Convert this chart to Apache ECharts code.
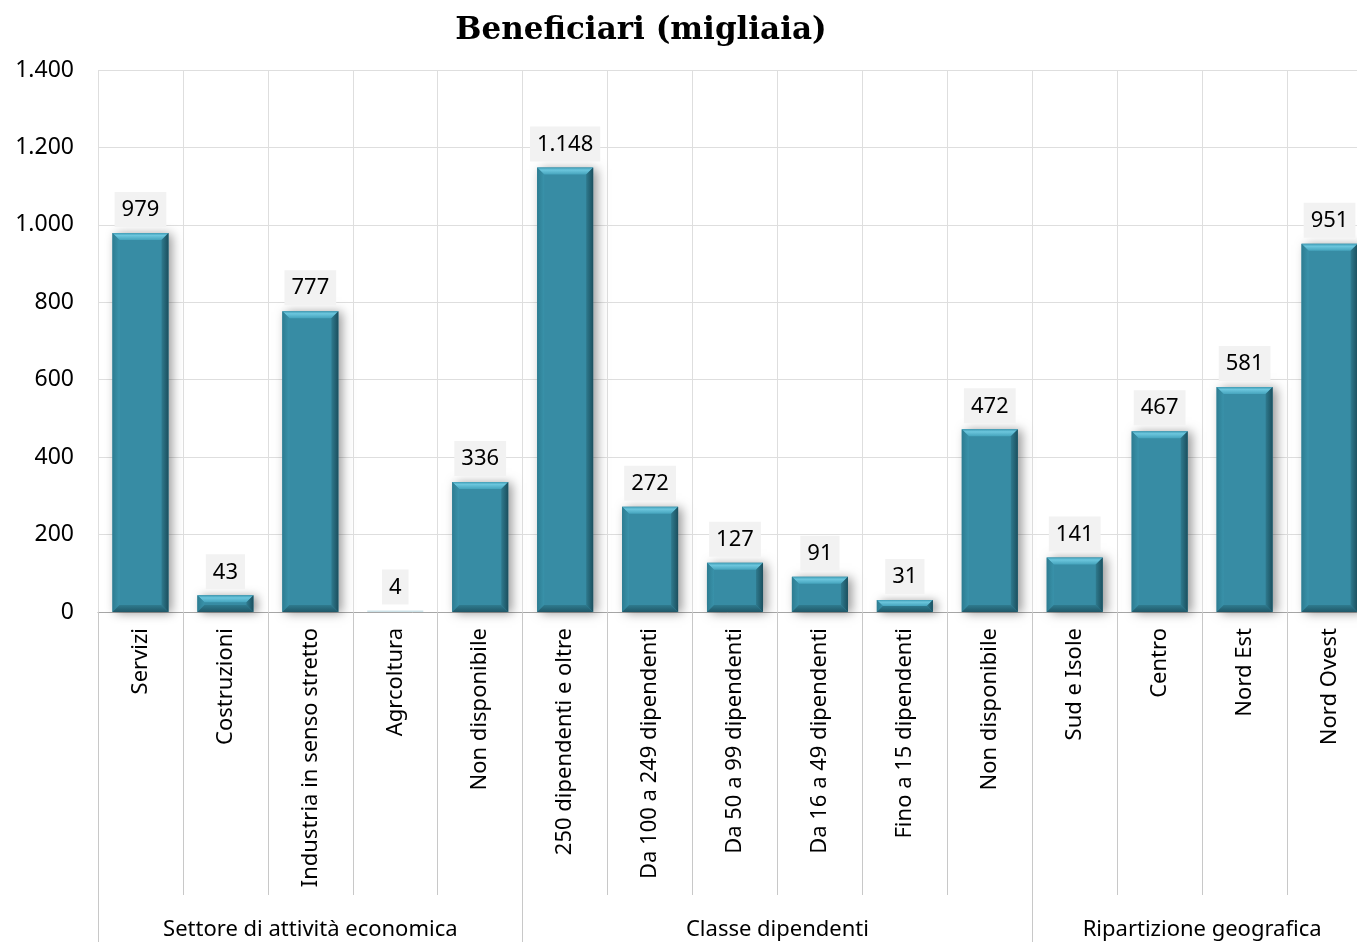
<!DOCTYPE html>
<html>
<head>
<meta charset="utf-8">
<script src="https://cdn.jsdelivr.net/npm/echarts@6/dist/echarts.min.js"></script>
<style>
  html, body { margin: 0; padding: 0; background: #fff; }
  #chart { width: 1357px; height: 942px; }
</style>
</head>
<body>
<div id="chart"></div>
<script>
// categorie e valori (migliaia)
var categories = ['Servizi', 'Costruzioni', 'Industria in senso stretto', 'Agrcoltura', 'Non disponibile',
    '250 dipendenti e oltre', 'Da 100 a 249 dipendenti', 'Da 50 a 99 dipendenti', 'Da 16 a 49 dipendenti',
    'Fino a 15 dipendenti', 'Non disponibile', 'Sud e Isole', 'Centro', 'Nord Est', 'Nord Ovest'];
var values = [979, 43, 777, 4, 336, 1148, 272, 127, 91, 31, 472, 141, 467, 581, 951];
// gruppi in basso
var groupNames = ['Settore di attività economica', 'Classe dipendenti', 'Ripartizione geografica'];
var groupSizes = [5, 6, 4];
var yTicks = [0, 200, 400, 600, 800, 1000, 1200, 1400];

var fontSans = '"Noto Sans", "Open Sans", sans-serif';

function fmt(v) {
    return String(v).replace(/\B(?=(\d{3})+(?!\d))/g, '.');
}

// confini e centri dei gruppi
var groupEdges = [0];
var groupCenters = [];
groupSizes.forEach(function (s, i) {
    var start = groupEdges[i];
    groupEdges.push(start + s);
    groupCenters.push(start + s / 2);
});

// barra con effetto smussato
function renderBar(params, api) {
    var i = api.value(0), v = api.value(1);
    var top = api.coord([i, v]);
    var base = api.coord([i, 0]);
    var w = api.size([1, 0])[0] * 0.66;
    var x0 = top[0] - w / 2, x1 = top[0] + w / 2;
    var y0 = top[1], y1 = base[1];
    var h = y1 - y0;
    var b = Math.min(7, h / 2);
    var children = [];
    if (h > 3) {
        children.push({
            type: 'rect',
            shape: { x: x0, y: y0, width: w, height: h },
            style: {
                fill: '#378ca4',
                shadowBlur: 10, shadowOffsetX: 4, shadowOffsetY: 1,
                shadowColor: 'rgba(0,0,0,0.4)'
            }
        });
        children.push({
            type: 'polygon',
            shape: { points: [[x0, y0], [x1, y0], [x1 - b, y0 + b], [x0 + b, y0 + b]] },
            style: {
                fill: new echarts.graphic.LinearGradient(0, 0, 0, 1, [
                    { offset: 0, color: '#3f9bb4' },
                    { offset: 0.35, color: '#6cc6dd' },
                    { offset: 1, color: '#45a4bd' }
                ])
            }
        });
        children.push({
            type: 'polygon',
            shape: { points: [[x0, y0], [x0 + b, y0 + b], [x0 + b, y1 - b], [x0, y1]] },
            style: {
                fill: new echarts.graphic.LinearGradient(0, 0, 1, 0, [
                    { offset: 0, color: '#2d7c91' },
                    { offset: 1, color: '#3992aa' }
                ])
            }
        });
        children.push({
            type: 'polygon',
            shape: { points: [[x1, y0], [x1, y1], [x1 - b, y1 - b], [x1 - b, y0 + b]] },
            style: {
                fill: new echarts.graphic.LinearGradient(0, 0, 1, 0, [
                    { offset: 0, color: '#2f7a8e' },
                    { offset: 1, color: '#1b4f5e' }
                ])
            }
        });
        children.push({
            type: 'polygon',
            shape: { points: [[x0, y1], [x1, y1], [x1 - b, y1 - b], [x0 + b, y1 - b]] },
            style: {
                fill: new echarts.graphic.LinearGradient(0, 0, 0, 1, [
                    { offset: 0, color: '#2f7b8f' },
                    { offset: 1, color: '#205868' }
                ])
            }
        });
    } else if (h > 0) {
        children.push({
            type: 'rect',
            shape: { x: x0, y: y0, width: w, height: h },
            style: { fill: 'rgba(55,140,164,0.25)' }
        });
    }
    children.push({
        type: 'text',
        x: top[0],
        y: y0 - 6,
        style: {
            text: fmt(v),
            fill: '#000',
            font: '22px ' + fontSans,
            align: 'center',
            verticalAlign: 'bottom',
            backgroundColor: '#f2f2f2',
            padding: [7, 7, 6, 7]
        }
    });
    return { type: 'group', children: children };
}

var chart = echarts.init(document.getElementById('chart'));
var option = {
    backgroundColor: '#fff',
    animation: false,
    graphic: [{
        type: 'text',
        x: 641,
        y: 15,
        style: {
            text: 'Beneficiari (migliaia)',
            fill: '#000',
            font: 'bold 31px "DejaVu Serif", serif',
            textAlign: 'center'
        }
    }],
    grid: {
        left: 98,
        top: 70,
        width: 1274,
        height: 542,
        containLabel: false,
        outerBoundsMode: 'none'
    },
    xAxis: [
        {
            type: 'category',
            data: categories,
            boundaryGap: true,
            axisLine: { show: true, lineStyle: { color: '#a6a6a6', width: 1 } },
            axisTick: {
                show: true, interval: 0, length: 283,
                lineStyle: { color: '#c8c8c8' }
            },
            axisLabel: {
                interval: 0, rotate: 90, margin: 16,
                color: '#000', fontSize: 22, fontFamily: fontSans
            },
            splitLine: { show: true, interval: 0, lineStyle: { color: '#dedede' } }
        },
        {
            type: 'value',
            min: 0,
            max: 15,
            position: 'bottom',
            offset: 330,
            axisLine: { show: false },
            axisTick: {
                show: true, inside: true, length: 330,
                customValues: groupEdges,
                lineStyle: { color: '#c8c8c8' }
            },
            axisLabel: {
                show: true, inside: true, margin: 1,
                customValues: groupCenters,
                color: '#000', fontSize: 22, fontFamily: fontSans,
                formatter: function (val) {
                    return groupNames[groupCenters.indexOf(val)] || '';
                }
            },
            splitLine: { show: false }
        }
    ],
    yAxis: {
        type: 'value',
        min: yTicks[0],
        max: yTicks[yTicks.length - 1],
        interval: yTicks[1] - yTicks[0],
        axisLine: { show: false },
        axisTick: { show: false },
        axisLabel: {
            margin: 24, color: '#000', fontSize: 23, fontFamily: fontSans,
            formatter: function (v) { return fmt(v); }
        },
        splitLine: { lineStyle: { color: '#dedede' } }
    },
    series: [{
        type: 'custom',
        xAxisIndex: 0,
        yAxisIndex: 0,
        renderItem: renderBar,
        encode: { x: 0, y: 1 },
        clip: false,
        data: values.map(function (v, i) { return [i, v]; })
    }]
};
chart.setOption(option);
</script>
</body>
</html>
